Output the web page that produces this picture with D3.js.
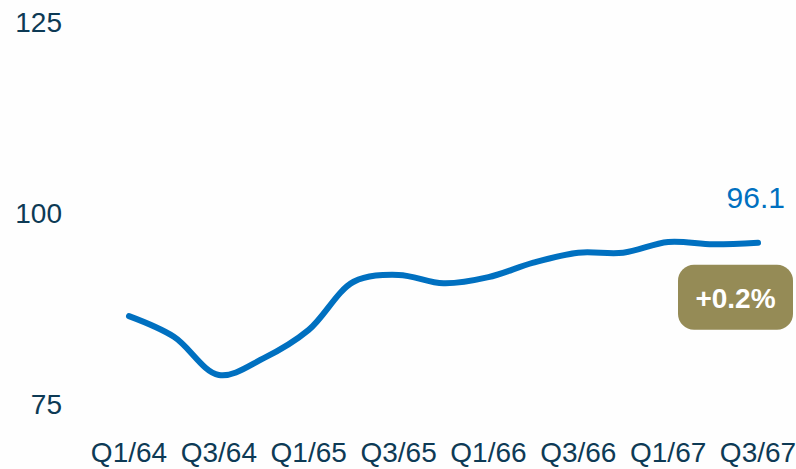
<!DOCTYPE html>
<html>
<head>
<meta charset="utf-8">
<script src="https://cdn.jsdelivr.net/npm/d3@7"></script>
<style>
    body {
        padding: 0;
        margin: 0;
        background: #fefefe;
    }
    text {
        font-family: "Liberation Sans", Arial, Helvetica, sans-serif;
    }
</style>
</head>
<body>
<script>
const quarters = ['Q1/64', 'Q2/64', 'Q3/64', 'Q4/64', 'Q1/65', 'Q2/65', 'Q3/65', 'Q4/65',
                  'Q1/66', 'Q2/66', 'Q3/66', 'Q4/66', 'Q1/67', 'Q2/67', 'Q3/67'];
const values = [86.5, 83.8, 78.8, 81.0, 84.7, 91.0, 91.9, 90.8, 91.6, 93.5, 94.8, 94.8, 96.2, 95.9, 96.1];
const yTicks = [75, 100, 125];
const xTickLabels = ['Q1/64', 'Q3/64', 'Q1/65', 'Q3/65', 'Q1/66', 'Q3/66', 'Q1/67', 'Q3/67'];
const lastLabel = '96.1';
const changeLabel = '+0.2%';

const width = 796;
const height = 469;

const svg = d3.create('svg')
    .attr('viewBox', [0, 0, width, height])
    .attr('width', width)
    .attr('height', height);

document.body.appendChild(svg.node());

svg.append('rect')
    .attr('width', width)
    .attr('height', height)
    .attr('fill', '#fefefe');

const x = d3.scalePoint()
    .domain(quarters)
    .range([129, 758]);

const y = d3.scaleLinear()
    .domain([75, 125])
    .range([404, 22]);

// y axis labels
svg.append('g')
    .selectAll('text')
    .data(yTicks)
    .join('text')
        .attr('x', 62)
        .attr('y', d => y(d))
        .attr('dy', '0.36em')
        .attr('text-anchor', 'end')
        .attr('font-size', 28)
        .attr('fill', '#0d3a55')
        .text(d => d);

// x axis labels
svg.append('g')
    .selectAll('text')
    .data(xTickLabels)
    .join('text')
        .attr('x', d => x(d))
        .attr('y', 462)
        .attr('text-anchor', 'middle')
        .attr('font-size', 28)
        .attr('fill', '#0d3a55')
        .text(d => d);

const line = d3.line()
    .x((d, i) => x(quarters[i]))
    .y(d => y(d))
    .curve(d3.curveCatmullRom.alpha(0.5));

svg.append('path')
    .datum(values)
    .attr('d', line)
    .attr('fill', 'none')
    .attr('stroke', '#0070c0')
    .attr('stroke-width', 6)
    .attr('stroke-linecap', 'round')
    .attr('stroke-linejoin', 'round');

const lastX = x(quarters[quarters.length - 1]);
const lastY = y(values[values.length - 1]);

svg.append('text')
    .attr('x', lastX + 27)
    .attr('y', lastY - 35)
    .attr('text-anchor', 'end')
    .attr('font-size', 30)
    .attr('fill', '#0070c0')
    .text(lastLabel);

const badge = svg.append('g')
    .attr('transform', `translate(${lastX - 80}, ${lastY + 22})`);

badge.append('rect')
    .attr('width', 115)
    .attr('height', 65)
    .attr('rx', 16)
    .attr('fill', '#958b56');

badge.append('text')
    .attr('x', 57.5)
    .attr('y', 33)
    .attr('dy', '0.36em')
    .attr('text-anchor', 'middle')
    .attr('font-size', 28)
    .attr('font-weight', 'bold')
    .attr('fill', '#ffffff')
    .text(changeLabel);
</script>
</body>
</html>
